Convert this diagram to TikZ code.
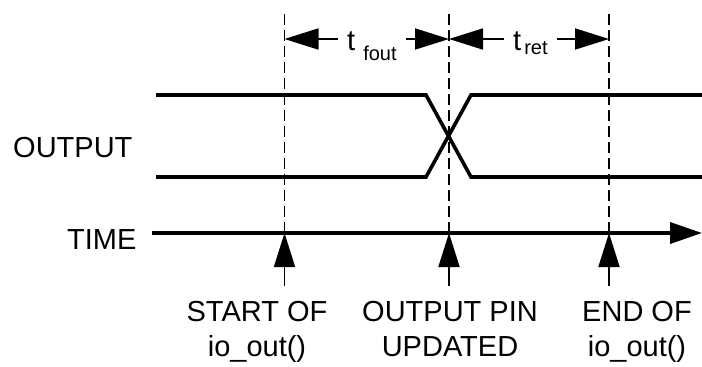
\documentclass[tikz,border=0pt]{standalone}
\usepackage{fontspec}
\setmainfont{Liberation Sans}
\usetikzlibrary{arrows.meta}

\tikzset{
  lbl/.style={font=\fontsize{29}{35}\selectfont, inner sep=0pt, align=center},
  dimlbl/.style={lbl, inner xsep=9pt},
  sig/.style={line width=3.6pt},
  guide/.style={line width=1.3pt, dash pattern=on 11pt off 5pt},
  pointer/.style={line width=1.8pt, -{Triangle[length=34pt,width=21pt]}},
}
\newcommand{\lowtxt}[2]{{\fontsize{20}{20}\selectfont\raisebox{-#1}{#2}}}

\begin{document}
\begin{tikzpicture}[x=1pt,y=-1pt]
\useasboundingbox (0,0) rectangle (702,367);
% event times on the axis
\coordinate (ev1) at (284.5,233);
\coordinate (ev2) at (449,233);
\coordinate (ev3) at (609,233);
\coordinate (top1) at (284.5,14);
\coordinate (top2) at (449,14);
\coordinate (top3) at (609,14);
\coordinate (dim1) at (284.5,39);
\coordinate (dim2) at (449,39);
\coordinate (dim3) at (609,39);
% dashed guides
\draw[guide] (top1) -- (ev1);
\draw[guide] (top2) -- (ev2);
\draw[guide] (top3) -- (ev3);
% intervals
\node[dimlbl, anchor=base west] (tfout) at (338,50) {t \lowtxt{10pt}{fout}};
\node[dimlbl, anchor=base west] (tret) at (504,50) {t\kern3pt\lowtxt{4pt}{ret}};
\draw[pointer] (tfout.west |- dim1) -- (dim1);
\draw[pointer] (tfout.east |- dim1) -- (dim2);
\draw[pointer] (tret.west |- dim2) -- (dim2);
\draw[pointer] (tret.east |- dim3) -- (dim3);
% output signal
\node[lbl, anchor=base west] (out) at (13,157) {OUTPUT};
\coordinate (hiA) at (156,95);
\coordinate (loA) at (156,177);
\coordinate (hiB) at (702,95);
\coordinate (loB) at (702,177);
\draw[sig] (hiA) -- (426,95) -- (471,177) -- (loB);
\draw[sig] (loA) -- (426,177) -- (471,95) -- (hiB);
% time axis
\node[lbl, anchor=base west] (time) at (67,249) {TIME};
\coordinate (tstart) at (152,233);
\coordinate (tend) at (702,233);
\draw[sig, -{Triangle[length=32pt,width=21pt]}] (tstart) -- (tend);
% events
\coordinate (up1) at (284.5,286);
\coordinate (up2) at (449,286);
\coordinate (up3) at (609,286);
\draw[pointer] (up1) -- (ev1);
\draw[pointer] (up2) -- (ev2);
\draw[pointer] (up3) -- (ev3);
\node[lbl, anchor=north] (start) at (257,301) {START OF\\io\_out()};
\node[lbl, anchor=north] (pin) at (450,301) {OUTPUT PIN\\UPDATED};
\node[lbl, anchor=north] (end) at (637,301) {END OF\\io\_out()};
\end{tikzpicture}
\end{document}
